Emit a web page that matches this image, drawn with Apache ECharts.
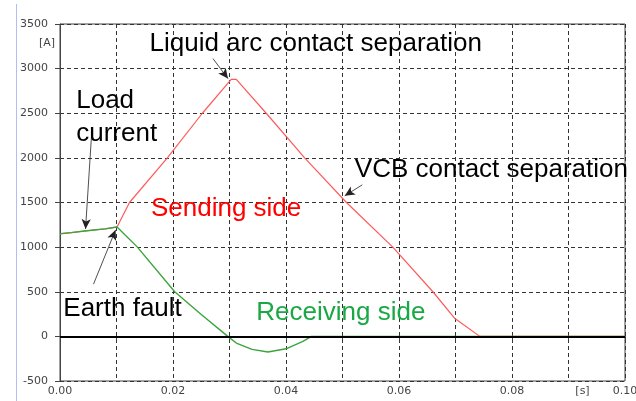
<!DOCTYPE html>
<html>
<head>
<meta charset="utf-8">
<script src="https://cdn.jsdelivr.net/npm/echarts@6/dist/echarts.min.js"></script>
<style>
  html, body { margin: 0; padding: 0; background: #fff; }
  #chart { width: 636px; height: 401px; }
</style>
</head>
<body>
<div id="chart"></div>
<script>
// time axis [s] and current [A]
var sendingT = [0, 0.002, 0.004, 0.006, 0.008, 0.0101, 0.0123, 0.019, 0.0252, 0.0303, 0.0312, 0.0365, 0.0433, 0.0507, 0.0589, 0.066, 0.0699, 0.0743, 0.1];
var sendingA = [1150, 1163, 1178, 1192, 1205, 1226, 1500, 2000, 2500, 2880, 2880, 2500, 2000, 1500, 1000, 500, 200, 0, 0];

var receivingT = [0, 0.002, 0.004, 0.006, 0.008, 0.0101, 0.0137, 0.0203, 0.025, 0.0297, 0.0312, 0.0340, 0.0368, 0.040, 0.043, 0.0445, 0.1];
var receivingA = [1150, 1163, 1178, 1192, 1205, 1226, 1000, 500, 245, 0, -75, -145, -175, -139, -56, 0, 0];

// annotation texts: [t, A] of the text centre (or left edge), colour
var noteText = ['Liquid arc contact separation', 'Load\ncurrent', 'Sending side', 'VCB contact separation', 'Earth fault', 'Receiving side'];
var notePos = [[0.04526, 3274], [0.00287, 2458], [0.0294, 1429], [0.07635, 1867], [0.01107, 309], [0.0497, 259]];
var noteColor = ['#000', '#000', '#ff0000', '#000', '#000', '#1aa845'];
var noteAlign = ['center', 'left', 'center', 'center', 'center', 'center'];

// arrows from text to the curve: [from, to]
var arrows = [
    [[0.02707, 3113], [0.02973, 2888]],
    [[0.00558, 2250], [0.00452, 1204]],
    [[0.00593, 585], [0.00983, 1192]],
    [[0.0535, 1698], [0.0504, 1575]]
];

var zip = function (xs, ys) {
    var res = [];
    for (var i = 0; i < xs.length; i++) res.push([xs[i], ys[i]]);
    return res;
};

var notes = [];
for (var i = 0; i < noteText.length; i++) {
    notes.push({
        name: noteText[i],
        coord: notePos[i],
        label: { color: noteColor[i], align: noteAlign[i] }
    });
}

var arrowData = [];
for (var j = 0; j < arrows.length; j++) {
    arrowData.push([{ coord: arrows[j][0] }, { coord: arrows[j][1] }]);
}

var gridLine = { show: true, lineStyle: { color: '#333', width: 1, type: [4, 3] } };
var labelStyle = { color: '#444', fontSize: 11, fontFamily: 'DejaVu Sans' };

var chart = echarts.init(document.getElementById('chart'));

var option = {
    animation: false,
    backgroundColor: '#fff',
    grid: {
        left: 60, right: 11, top: 24, bottom: 20,
        outerBoundsMode: 'none',
        show: true,
        borderColor: '#444',
        borderWidth: 1
    },
    graphic: [
        { type: 'line', shape: { x1: 16.5, y1: 4, x2: 16.5, y2: 401 }, style: { stroke: '#b4bcf6', lineWidth: 1 } }
    ],
    xAxis: {
        type: 'value',
        min: 0, max: 0.1, interval: 0.01,
        axisLine: { lineStyle: { color: '#444' } },
        axisTick: { show: true, length: 4, lineStyle: { color: '#444' } },
        axisLabel: Object.assign({
            margin: 5,
            formatter: function (v) {
                var k = Math.round(v * 100);
                if (k === 9) return '{s|[s]}';
                return k % 2 === 0 ? v.toFixed(2) : '';
            },
            rich: { s: { color: '#444', fontSize: 11, fontFamily: 'DejaVu Sans', padding: [0, 0, 0, 28] } }
        }, labelStyle),
        splitLine: gridLine
    },
    yAxis: {
        type: 'value',
        min: -500, max: 3500, interval: 500,
        name: '[A]',
        nameLocation: 'end',
        nameGap: -19,
        nameTextStyle: Object.assign({ align: 'right', verticalAlign: 'middle', padding: [0, 5, 0, 0] }, labelStyle),
        axisLine: { show: true, lineStyle: { color: '#444' } },
        axisTick: { show: true, length: 5, lineStyle: { color: '#444' } },
        axisLabel: Object.assign({
            margin: 12,
            formatter: function (v) { return String(v); }
        }, labelStyle),
        splitLine: gridLine
    },
    series: [
        {
            name: 'Sending side',
            type: 'line',
            data: zip(sendingT, sendingA),
            showSymbol: false,
            lineStyle: { color: '#ff5a5a', width: 1.2 },
            markPoint: {
                symbol: 'circle',
                symbolSize: 1,
                itemStyle: { color: 'rgba(0,0,0,0)' },
                label: {
                    show: true,
                    position: 'inside',
                    formatter: '{b}',
                    fontSize: 26,
                    fontFamily: 'Liberation Sans',
                    lineHeight: 33
                },
                data: notes
            },
            markLine: {
                silent: true,
                symbol: ['none', 'arrow'],
                symbolSize: [7, 10],
                label: { show: false },
                lineStyle: { color: '#222', width: 0.8, type: 'solid' },
                data: arrowData
            }
        },
        {
            name: 'Receiving side',
            type: 'line',
            data: zip(receivingT, receivingA),
            showSymbol: false,
            lineStyle: { color: '#3ca43c', width: 1.4 },
            markLine: {
                silent: true,
                symbol: 'none',
                label: { show: false },
                lineStyle: { color: '#000', width: 2, type: 'solid' },
                data: [{ yAxis: 0 }]
            }
        }
    ]
};

chart.setOption(option);
</script>
</body>
</html>
